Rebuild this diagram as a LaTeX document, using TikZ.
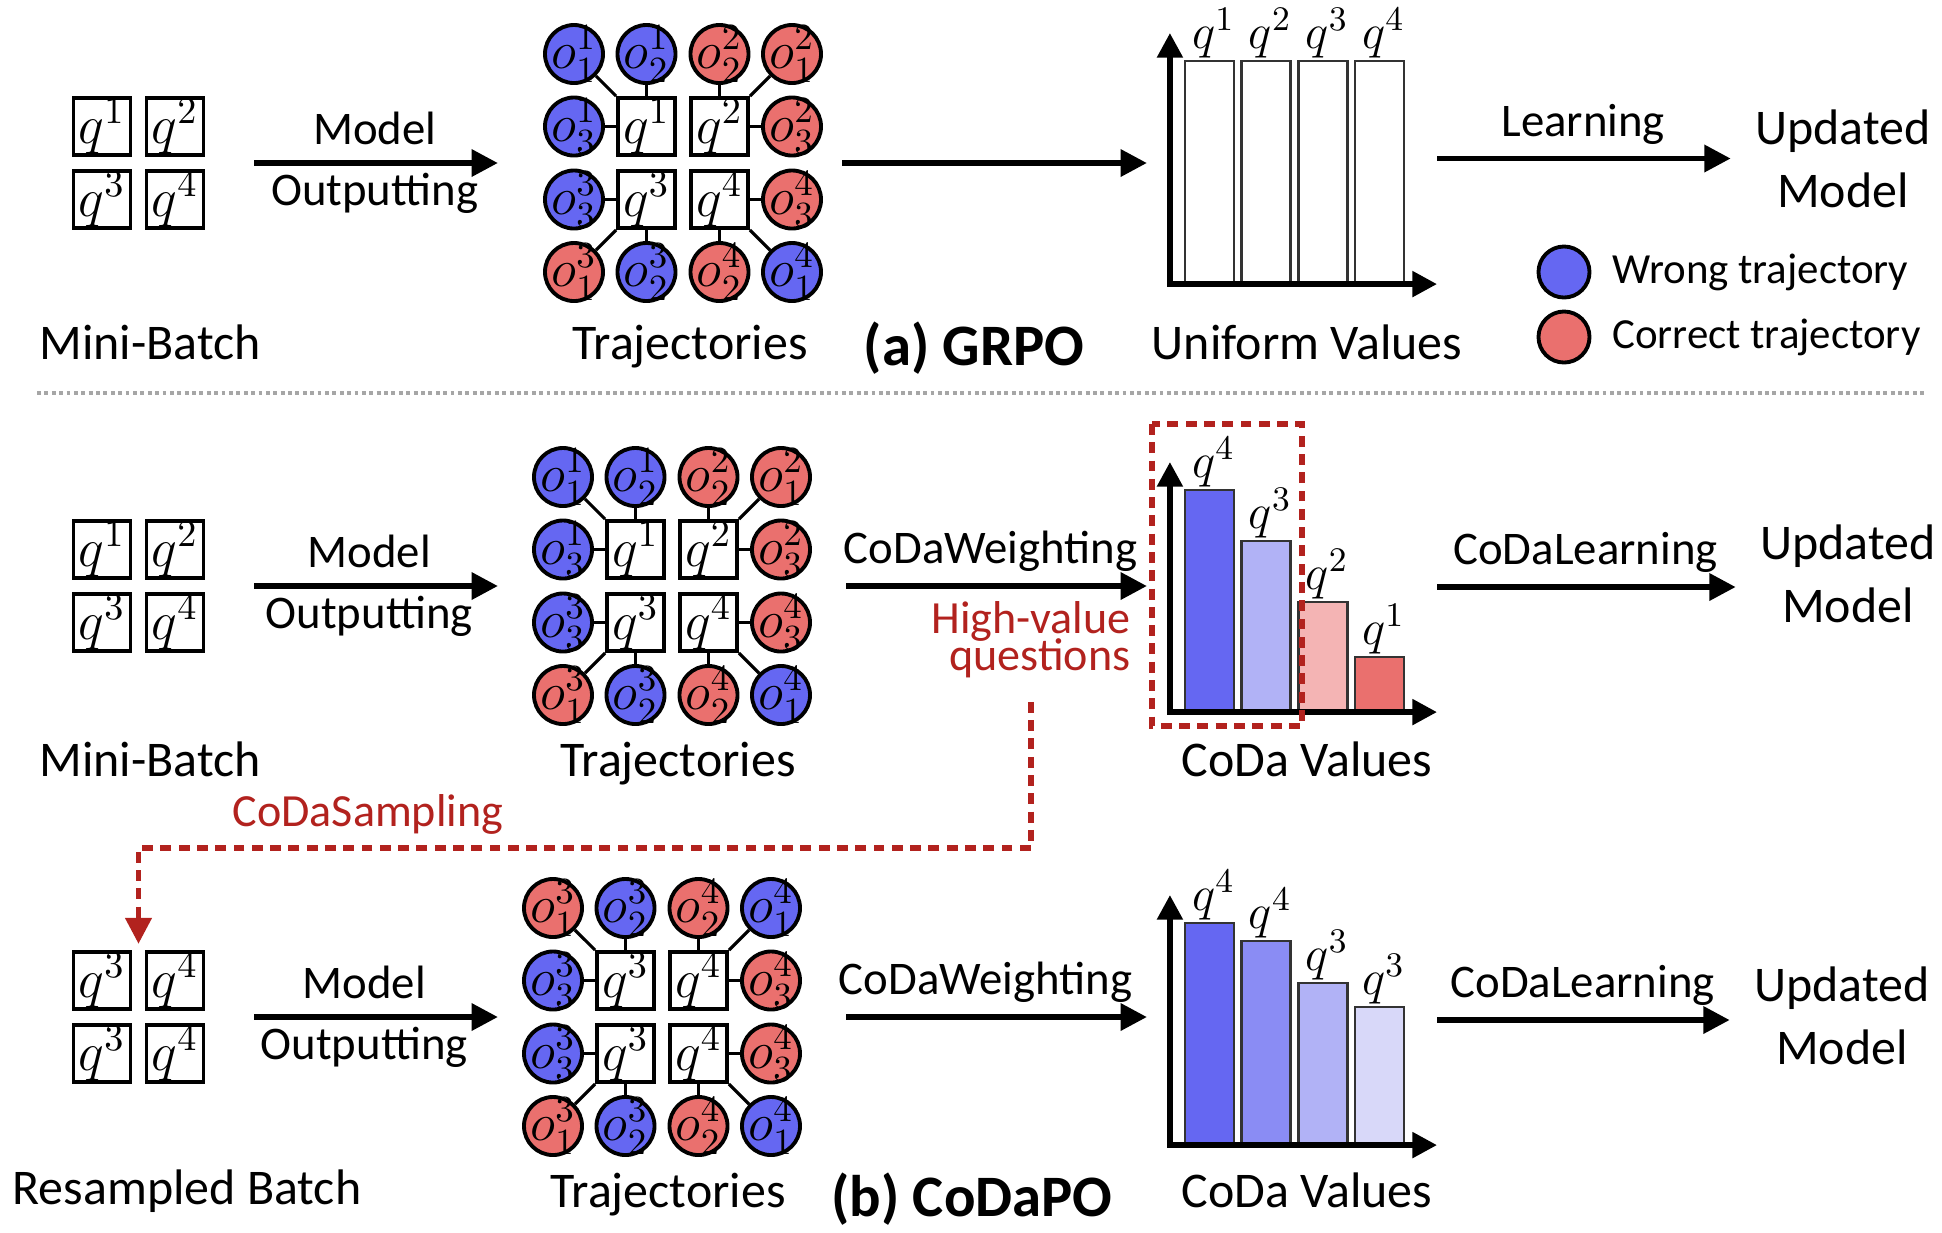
\documentclass[tikz,border=0pt]{standalone}
\usepackage{fix-cm}
\usepackage{fontspec}
\setmainfont{Carlito}
\usetikzlibrary{arrows.meta,positioning,calc}

% 颜色
\definecolor{wrongblue}{RGB}{101,103,242}
\definecolor{rightred}{RGB}{234,112,110}
\definecolor{lightblue}{RGB}{177,178,246}
\definecolor{midblue}{RGB}{138,140,244}
\definecolor{paleblue}{RGB}{216,216,249}
\definecolor{lightred}{RGB}{244,180,180}
\definecolor{codared}{RGB}{178,34,30}

\tikzset{
  qbox/.style={draw, line width=1.1pt, fill=white, minimum size=0.57cm, inner sep=0pt, font=\fontsize{15.5}{17}\selectfont},
  traj/.style={circle, draw, line width=1.1pt, minimum size=0.58cm, inner sep=-5pt, font=\fontsize{15}{17}\selectfont},
  link/.style={line width=0.9pt},
  grp/.style={inner sep=0pt, outer sep=0pt},
  flow/.style={line width=1.6pt, -{Triangle[length=7.5pt,width=7.5pt]}},
  chartaxes/.style={line width=1.7pt, {Triangle[length=7pt,width=7pt]}-{Triangle[length=7pt,width=7pt]}},
  bar/.style={draw=black!80, line width=0.7pt},
  barlab/.style={anchor=south, inner sep=0pt, font=\fontsize{14}{16}\selectfont},
  lbl/.style={anchor=base, inner sep=0pt, font=\fontsize{14.2}{17}\selectfont},
  ttl/.style={anchor=base, inner sep=0pt, font=\fontsize{16.7}{20}\selectfont\bfseries},
  flowtxt/.style={anchor=base, inner sep=0pt, font=\fontsize{13.3}{16}\selectfont},
  upd/.style={align=center, inner sep=0pt, font=\fontsize{14.2}{17.9}\selectfont},
  legtxt/.style={inner sep=0pt, font=\fontsize{12.2}{14}\selectfont},
  redtxt/.style={text=codared, inner sep=0pt, font=\fontsize{13.1}{15.7}\selectfont},
  reddash/.style={draw=codared, line width=1.7pt, dash pattern=on 3.1pt off 2.1pt},
  sepline/.style={draw=gray!70, line width=0.9pt, dash pattern=on 1.1pt off 1pt},
}

% 一个问题框和它的三条轨迹: 名字, x, y, 问题编号, 方向x, 方向y, 三个颜色
\newcommand{\qgroup}[9]{%
  \node[qbox] (#1) at (#2,#3) {$q^{#4}$};
  \node[traj, fill=#7] (#1-o1) at ($(#1)+({#5*72.5},{#6*72.5})$) {$o^{#4}_{1}$};
  \node[traj, fill=#8] (#1-o2) at ($(#1)+(0,{#6*72.5})$) {$o^{#4}_{2}$};
  \node[traj, fill=#9] (#1-o3) at ($(#1)+({#5*72.5},0)$) {$o^{#4}_{3}$};
  \draw[link] (#1-o1) -- (#1);
  \draw[link] (#1-o2) -- (#1);
  \draw[link] (#1-o3) -- (#1);
}

\begin{document}
\begin{tikzpicture}[x=0.01cm, y=-0.01cm]
\useasboundingbox (0,0) rectangle (1942,1232);

% ===== 第一行: (a) GRPO =====
% Mini-Batch
\foreach \i/\x/\y in {1/102/126.5, 2/175/126.5, 3/102/199.5, 4/175/199.5}
  \node[qbox] (a-mb\i) at (\x,\y) {$q^{\i}$};
\node[grp, minimum size=1.34cm] (a-mb) at (138.5,163) {};
\node[lbl] (a-mbl) at (150,359) {Mini-Batch};

% 轨迹
\qgroup{a-q1}{646.5}{126.5}{1}{-1}{-1}{wrongblue}{wrongblue}{wrongblue}
\qgroup{a-q2}{719.5}{126.5}{2}{1}{-1}{rightred}{rightred}{rightred}
\qgroup{a-q3}{646.5}{199.5}{3}{-1}{1}{rightred}{wrongblue}{wrongblue}
\qgroup{a-q4}{719.5}{199.5}{4}{1}{1}{wrongblue}{rightred}{rightred}
\node[grp, minimum size=2.78cm] (a-tr) at (683,163) {};
\node[lbl] (a-trl) at (690,359) {Trajectories};
\node[ttl] (a-ttl) at (974,365) {(a) GRPO};

% 柱状图 (均匀)
\node[grp, minimum width=2.67cm, minimum height=2.51cm] (a-ch) at (1303.5,158.5) {};
\foreach \i/\h/\c/\q in {0/223/white/1, 1/223/white/2, 2/223/white/3, 3/223/white/4} {
  \draw[bar, fill=\c] ({1185+56.7*\i},284) rectangle ++(49,-\h);
  \node[barlab] (a-v\i) at ({1213.5+56.7*\i},{282-\h}) {$q^{\q}$};
}
\draw[chartaxes] (a-ch.north west) -- (a-ch.south west) -- (a-ch.south east);
\node[lbl] (a-chl) at (1307,359) {Uniform Values};

\node[upd] (a-up) at (1843,159) {Updated\\Model};

% 箭头
\draw[flow, shorten <=0.485cm, shorten >=0.46cm] (a-mb) -- (a-tr)
  node[flowtxt, midway, yshift=5.2pt] {Model}
  node[flowtxt, midway, yshift=-12pt] {Outputting};
\draw[flow, shorten <=0.2cm, shorten >=0.23cm] (a-tr) -- (a-tr -| a-ch.west);
\draw[flow, shorten >=0.24cm] (a-ch) -- (a-ch -| a-up.west)
  node[flowtxt, pos=0.46, yshift=6.4pt] {Learning};

% 图例
\node[traj, fill=wrongblue, minimum size=0.51cm] (lg-w) at (1564,272) {};
\node[legtxt, right=0.2cm of lg-w] (lg-wt) {Wrong trajectory};
\node[traj, fill=rightred, minimum size=0.51cm] (lg-c) at (1564,337) {};
\node[legtxt, right=0.2cm of lg-c] (lg-ct) {Correct trajectory};

% 分隔线
\draw[sepline] (37,393) -- (1925,393);

% ===== 第二行: CoDaPO =====
\foreach \i/\x/\y in {1/102/549.5, 2/175/549.5, 3/102/622.5, 4/175/622.5}
  \node[qbox] (b-mb\i) at (\x,\y) {$q^{\i}$};
\node[grp, minimum size=1.34cm] (b-mb) at (138.5,586) {};
\node[lbl] (b-mbl) at (150,776) {Mini-Batch};

\qgroup{b-q1}{635.5}{549.5}{1}{-1}{-1}{wrongblue}{wrongblue}{wrongblue}
\qgroup{b-q2}{708.5}{549.5}{2}{1}{-1}{rightred}{rightred}{rightred}
\qgroup{b-q3}{635.5}{622.5}{3}{-1}{1}{rightred}{wrongblue}{wrongblue}
\qgroup{b-q4}{708.5}{622.5}{4}{1}{1}{wrongblue}{rightred}{rightred}
\node[grp, minimum size=2.78cm] (b-tr) at (672,586) {};
\node[lbl] (b-trl) at (678,776) {Trajectories};

% 柱状图 (CoDa)
\node[grp, minimum width=2.67cm, minimum height=2.5cm] (b-ch) at (1303.5,587) {};
\foreach \i/\h/\c/\q in {0/222/wrongblue/4, 1/171/lightblue/3, 2/110/lightred/2, 3/55/rightred/1} {
  \draw[bar, fill=\c] ({1185+56.7*\i},712) rectangle ++(49,-\h);
  \node[barlab] (b-v\i) at ({1213.5+56.7*\i},{710-\h}) {$q^{\q}$};
}
\draw[chartaxes] (b-ch.north west) -- (b-ch.south west) -- (b-ch.south east);
\node[lbl] (b-chl) at (1307,776) {CoDa Values};

\node[upd] (b-up) at (1848,574) {Updated\\Model};

\draw[flow, shorten <=0.485cm, shorten >=0.35cm] (b-mb) -- (b-mb -| b-tr.west)
  node[flowtxt, midway, yshift=5.2pt] {Model}
  node[flowtxt, midway, yshift=-12pt] {Outputting};
\draw[flow, shorten <=0.35cm, shorten >=0.23cm] (b-tr) -- (b-tr -| b-ch.west)
  node[flowtxt, midway, yshift=6.4pt] {CoDaWeighting};
\draw[flow, shorten >=0.24cm] (b-ch) -- (b-ch -| b-up.west)
  node[flowtxt, pos=0.46, yshift=6.4pt] {CoDaLearning};

% 高价值问题
\node[redtxt, align=right, anchor=east] (b-hv) at (1131,640) {High-value\\[-5.2pt]questions};
\draw[reddash] (1152,424) rectangle (1302,726);

% ===== 第三行: 重采样 =====
\foreach \i/\q/\x/\y in {1/3/102/980.5, 2/4/175/980.5, 3/3/102/1053.5, 4/4/175/1053.5}
  \node[qbox] (c-mb\i) at (\x,\y) {$q^{\q}$};
\node[grp, minimum size=1.34cm] (c-mb) at (138.5,1017) {};
\node[lbl] (c-mbl) at (187,1204) {Resampled Batch};

% CoDaSampling 虚线
\coordinate (samp) at (1032,848);
\draw[reddash, -{Triangle[length=7.4pt,width=7.2pt]}, shorten <=0.23cm, shorten >=0.06cm]
  (b-hv.south) -- (b-hv.south |- samp) -| (c-mb.north);
\node[redtxt, anchor=base] (c-samp) at (368,826) {CoDaSampling};

\qgroup{c-q3a}{625.5}{980.5}{3}{-1}{-1}{rightred}{wrongblue}{wrongblue}
\qgroup{c-q4a}{698.5}{980.5}{4}{1}{-1}{wrongblue}{rightred}{rightred}
\qgroup{c-q3b}{625.5}{1053.5}{3}{-1}{1}{rightred}{wrongblue}{wrongblue}
\qgroup{c-q4b}{698.5}{1053.5}{4}{1}{1}{wrongblue}{rightred}{rightred}
\node[grp, minimum size=2.78cm] (c-tr) at (662,1017) {};
\node[lbl] (c-trl) at (668,1207) {Trajectories};
\node[ttl] (c-ttl) at (972,1216) {(b) CoDaPO};

\node[grp, minimum width=2.67cm, minimum height=2.5cm] (c-ch) at (1303.5,1020) {};
\foreach \i/\h/\c/\q in {0/222/wrongblue/4, 1/204/midblue/4, 2/162/lightblue/3, 3/138/paleblue/3} {
  \draw[bar, fill=\c] ({1185+56.7*\i},1145) rectangle ++(49,-\h);
  \node[barlab] (c-v\i) at ({1213.5+56.7*\i},{1143-\h}) {$q^{\q}$};
}
\draw[chartaxes] (c-ch.north west) -- (c-ch.south west) -- (c-ch.south east);
\node[lbl] (c-chl) at (1307,1207) {CoDa Values};

\node[upd] (c-up) at (1842,1016) {Updated\\Model};

\draw[flow, shorten <=0.485cm, shorten >=0.25cm] (c-mb) -- (c-mb -| c-tr.west)
  node[flowtxt, midway, yshift=5.2pt] {Model}
  node[flowtxt, midway, yshift=-12pt] {Outputting};
\draw[flow, shorten <=0.45cm, shorten >=0.23cm] (c-tr) -- (c-tr -| c-ch.west)
  node[flowtxt, midway, yshift=6.4pt] {CoDaWeighting};
\draw[flow, shorten >=0.24cm] (c-ch) -- (c-ch -| c-up.west)
  node[flowtxt, pos=0.46, yshift=6.4pt] {CoDaLearning};
\end{tikzpicture}
\end{document}
